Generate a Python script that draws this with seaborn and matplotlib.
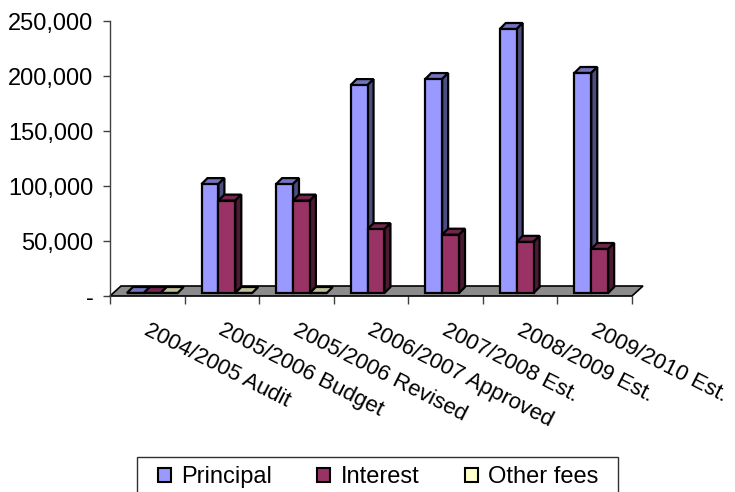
import numpy as np
import pandas as pd
import matplotlib
matplotlib.use("Agg")
import matplotlib.pyplot as plt
import matplotlib.transforms as mtransforms
from matplotlib.patches import Polygon, Patch, Rectangle
import seaborn as sns

# Debt service by fiscal year
years = ["2004/2005 Audit", "2005/2006 Budget", "2005/2006 Revised",
         "2006/2007 Approved", "2007/2008 Est.", "2008/2009 Est.", "2009/2010 Est."]
principal = [0, 99000, 99000, 189000, 194500, 240000, 200000]
interest = [0, 84000, 84000, 58000, 53000, 46500, 40000]
other_fees = [0, 0, 0, np.nan, np.nan, np.nan, np.nan]
series_names = ["Principal", "Interest", "Other fees"]
y_ticks = [0, 50000, 100000, 150000, 200000, 250000]

front_colors = {"Principal": "#9999FF", "Interest": "#993366", "Other fees": "#FFFFCC"}
top_colors = {"Principal": "#7373BF", "Interest": "#73264D", "Other fees": "#BFBF99"}
side_colors = {"Principal": "#4D4D80", "Interest": "#4D1A33", "Other fees": "#808066"}

df = pd.DataFrame({
    "Year": years * 3,
    "Series": sum([[s] * len(years) for s in series_names], []),
    "Amount": principal + interest + other_fees,
})

sns.set_style("white")
plt.rcParams["font.family"] = ["Liberation Sans", "DejaVu Sans"]
plt.rcParams["text.color"] = "black"
plt.rcParams["xtick.color"] = "black"
plt.rcParams["ytick.color"] = "black"

W, H = 735, 492
fig = plt.figure(figsize=(W / 100, H / 100), dpi=100)
ax_l, ax_r, ax_b, ax_t = 110, 632, 296, 21
ax = fig.add_axes([ax_l / W, 1 - ax_b / H, (ax_r - ax_l) / W, (ax_b - ax_t) / H])
ax.set_xlim(-0.5, len(years) - 0.5)
ax.set_ylim(0, 250000)

# pixel -> data unit conversions for the pseudo-3D depth
px_x = (len(years)) / (ax_r - ax_l)
px_y = 250000 / (ax_b - ax_t)

# floor
fdx, fdy = 11 * px_x, 10 * px_y
floor = Polygon([(-0.5, 0), (len(years) - 0.5, 0),
                 (len(years) - 0.5 + fdx, fdy), (-0.5 + fdx, fdy)],
                closed=True, facecolor="#8C8C8C", edgecolor="black",
                linewidth=1.2, zorder=1, clip_on=False)
ax.add_patch(floor)

sns.barplot(data=df, x="Year", y="Amount", hue="Series", hue_order=series_names,
            order=years, palette=front_colors, width=0.68, saturation=1,
            edgecolor="black", linewidth=1.6, legend=False, ax=ax)

# move bars into the middle of the floor and add top/side faces
sx, sy = 5 * px_x, 3 * px_y
bdx, bdy = 6 * px_x, 6 * px_y
bars = [p for p in ax.patches if isinstance(p, Rectangle) and np.isfinite(p.get_height())]
names = []
for p in bars:
    fc = matplotlib.colors.to_hex(p.get_facecolor())
    name = [k for k, v in front_colors.items() if v.lower() == fc.lower()]
    names.append(name[0] if name else "Principal")

for p, name in sorted(zip(bars, names), key=lambda t: t[0].get_x()):
    x0 = p.get_x() + sx
    w = p.get_width()
    h = p.get_height()
    p.set_x(x0)
    p.set_y(sy)
    z = 2 + x0 * 0.1
    p.set_zorder(z + 0.02)
    p.set_clip_on(False)
    top = sy + h
    top_face = Polygon([(x0, top), (x0 + w, top), (x0 + w + bdx, top + bdy), (x0 + bdx, top + bdy)],
                       closed=True, facecolor=top_colors[name], edgecolor="black",
                       linewidth=1.6, zorder=z, clip_on=False, joinstyle="miter")
    side_face = Polygon([(x0 + w, sy), (x0 + w + bdx, sy + bdy), (x0 + w + bdx, top + bdy), (x0 + w, top)],
                        closed=True, facecolor=side_colors[name], edgecolor="black",
                        linewidth=1.6, zorder=z + 0.01, clip_on=False, joinstyle="miter")
    ax.add_patch(top_face)
    if h > 0:
        ax.add_patch(side_face)

# axes styling
for s in ["top", "right", "bottom"]:
    ax.spines[s].set_visible(False)
ax.spines["left"].set_color("#404040")
ax.spines["left"].set_linewidth(1.0)
ax.set_xlabel("")
ax.set_ylabel("")

ax.set_yticks(y_ticks)
ax.set_yticklabels(["-" if v == 0 else f"{v:,.0f}" for v in y_ticks])
ax.tick_params(axis="y", direction="out", length=5, width=1, color="#404040",
               labelsize=17, labelcolor="black", pad=7, left=True)

ax.set_xticks(range(len(years)))
ax.set_xticklabels(years)
ax.set_xticks(np.arange(-0.5, len(years)), minor=True)
ax.tick_params(axis="x", which="major", length=0, pad=17, labelsize=16, labelcolor="black")
ax.tick_params(axis="x", which="minor", direction="out", length=6, width=1,
               color="#404040", bottom=True)
shift = mtransforms.ScaledTranslation(0.03, 0, fig.dpi_scale_trans)
for lab in ax.get_xticklabels():
    lab.set_rotation(-27)
    lab.set_rotation_mode("anchor")
    lab.set_ha("left")
    lab.set_va("top")
    lab.set_transform(lab.get_transform() + shift)
ax.grid(False)

# legend
handles = [Patch(facecolor=front_colors[s], edgecolor="black", linewidth=1.5) for s in series_names]
fig.legend(handles, series_names, loc="center left", ncol=3, frameon=False,
           bbox_to_anchor=(158 / W, 1 - 477 / H), fontsize=17,
           handlelength=0.55, handleheight=0.55, handletextpad=0.45,
           columnspacing=1.9, borderpad=0, borderaxespad=0)
fig.patches.append(Rectangle((137 / W, -0.05), (618 - 137) / W, (H - 457) / H + 0.05,
                             transform=fig.transFigure, fill=False,
                             edgecolor="#303030", linewidth=1.0))

fig.savefig("out.png", dpi=100)
